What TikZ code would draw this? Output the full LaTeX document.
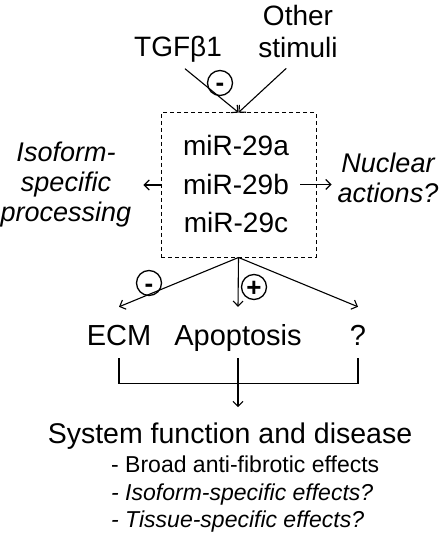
\documentclass[tikz,border=0pt]{standalone}
\usepackage{fontspec}
\setmainfont{Liberation Sans}
\usetikzlibrary{arrows.meta}

\begin{document}
\begin{tikzpicture}[x=1pt, y=-1pt,
  lbl/.style={inner sep=0pt, font=\fontsize{28}{32}\selectfont},
  side/.style={inner sep=0pt, align=center, font=\fontsize{27}{30}\selectfont\itshape},
  target/.style={inner sep=0pt, font=\fontsize{29}{32}\selectfont, anchor=base, text height=25pt, text depth=0pt, inner ysep=13pt},
  mirbox/.style={draw, dash pattern=on 4pt off 3pt, line width=1pt, minimum width=155pt, minimum height=144pt, inner sep=0pt},
  sign/.style={draw, circle, line width=1.3pt, minimum size=25pt, inner sep=0pt, text height=18pt, text depth=0pt, font=\fontsize{26}{26}\selectfont\bfseries},
  link/.style={line width=1.1pt, -{Straight Barb[length=5pt,width=10pt]}},
]

\useasboundingbox (0,0) rectangle (441,534);

%% stimuli
\node[lbl, anchor=base] (tgf) at (178,57) {TGFβ1};
\node[lbl, align=center] (oth) at (298,31) {Other\\stimuli};

%% miR-29 family
\node[mirbox] (box) at (238.5,185) {};
\node[lbl, anchor=base] (m29a) at (236,156) {miR-29a};
\node[lbl, anchor=base] (m29b) at (236,194.5) {miR-29b};
\node[lbl, anchor=base] (m29c) at (236,233) {miR-29c};

\draw[link, shorten <=9pt] (tgf.south) -- (box.north);
\draw[link, shorten <=16pt] (oth.south) -- (box.north);
\node[sign] (neg1) at (220,83) {-};

%% side branches
\node[side] (iso) at (66,185) {Isoform-\\specific\\processing};
\node[side] (nuc) at (388,178) {Nuclear\\actions?};
\draw[link, shorten >=12pt] (box.west) -- (iso.east);
\draw[link, shorten <=11pt, shorten >=6pt] (m29b.east) -- (m29b.east -| nuc.west);

%% targets
\node[target] (ecm) at (119,345) {ECM};
\node[target] (apo) at (238,345) {Apoptosis};
\node[target] (unk) at (358,345) {?};

\draw[link] (box.south) -- (ecm.north);
\draw[link] (box.south) -- (apo.north);
\draw[link] (box.south) -- (unk.north);
\node[sign] (neg2) at (149,283) {-};
\node[sign] (pos) at (254,287) {+};

%% outcome
\draw[line width=1.1pt] (ecm.south) -- ++(0,25) -| (unk.south);
\node[lbl, font=\fontsize{28.5}{32}\selectfont, anchor=base] (sys) at (230,443) {System function and disease};
\draw[link, shorten >=15pt] (apo.south) -- (apo.south |- sys.north);
\node[anchor=north west, align=left, inner sep=0pt, font=\fontsize{23}{27.5}\selectfont] (eff) at (111,456)
  {- Broad anti-fibrotic effects\\\textit{- Isoform-specific effects?}\\\textit{- Tissue-specific effects?}};

\end{tikzpicture}
\end{document}
